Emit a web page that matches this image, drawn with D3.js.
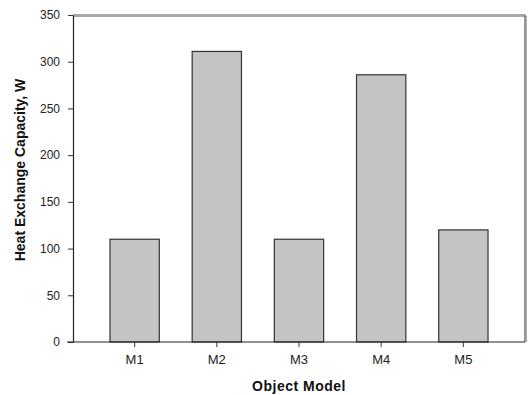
<!DOCTYPE html>
<html>
<head>
<meta charset="utf-8">
<script src="https://cdn.jsdelivr.net/npm/d3@7"></script>
<style>
  body { margin: 0; background: #fff; }
  .tick text { font-family: Arial, "Liberation Sans", sans-serif; fill: #222; }
</style>
</head>
<body>
<div class="chart"></div>
<script>
// Bar chart: heat exchange capacity per object model

var categories = ["M1", "M2", "M3", "M4", "M5"];
var capacity = [110, 311, 110, 286, 120]; // W
var yTicks = [0, 50, 100, 150, 200, 250, 300, 350];

var W = 528, H = 395;
var mLeft = 73, mRight = 525, mTop = 15, mBottom = 342;

var svg = d3.select(".chart").append("svg")
    .attr("width", W)
    .attr("height", H);

var x = d3.scaleBand()
    .domain(categories)
    .range([mLeft, mRight])
    .paddingInner(0.4)
    .paddingOuter(0.45);

var y = d3.scaleLinear()
    .domain([0, 350])
    .range([mBottom, mTop]);

// frame (top & right), slightly gray with a shadow
svg.append("path")
    .attr("d", "M" + mLeft + "," + (mTop + 1.5) + "H" + (mRight + 1.5) + "V" + mBottom)
    .attr("fill", "none").attr("stroke", "#aaa").attr("stroke-width", 1);
svg.append("path")
    .attr("d", "M" + mLeft + "," + mTop + "H" + mRight + "V" + mBottom)
    .attr("fill", "none").attr("stroke", "#555").attr("stroke-width", 1.2);

// bars
svg.selectAll("rect.bar")
    .data(capacity)
    .enter().append("rect")
    .attr("class", "bar")
    .attr("x", function(d, i) { return x(categories[i]); })
    .attr("y", function(d) { return y(d); })
    .attr("width", x.bandwidth())
    .attr("height", function(d) { return y(0) - y(d); })
    .style("fill", "#c4c3c6")
    .style("stroke", "#333")
    .style("stroke-width", 1.2);

// axes
var yAxis = svg.append("g")
    .attr("transform", "translate(" + mLeft + ",0)")
    .call(d3.axisLeft(y).tickValues(yTicks).tickSize(5).tickPadding(8).tickSizeOuter(0));
yAxis.selectAll(".tick text").style("font-size", "12px");

var xAxis = svg.append("g")
    .attr("transform", "translate(0," + mBottom + ")")
    .call(d3.axisBottom(x).tickSize(5).tickPadding(8).tickSizeOuter(0));
xAxis.selectAll(".tick text").style("font-size", "13px");

[yAxis, xAxis].forEach(function(g) {
  g.select(".domain").attr("stroke", "#222").attr("stroke-width", 1.2);
  g.selectAll(".tick line").attr("stroke", "#333");
});
xAxis.select(".domain").attr("d", "M" + (mLeft - 6) + ",0H" + mRight);

// axis titles
svg.append("text")
    .text("Object Model")
    .attr("x", (mLeft + mRight) / 2)
    .attr("y", 391)
    .attr("text-anchor", "middle")
    .style("font-family", "Arial, 'Liberation Sans', sans-serif")
    .style("font-weight", "bold")
    .style("font-size", "14px")
    .style("letter-spacing", "0.5px")
    .style("fill", "#111");

svg.append("text")
    .text("Heat Exchange Capacity, W")
    .attr("transform", "translate(25,170) rotate(-90)")
    .attr("text-anchor", "middle")
    .style("font-family", "Arial, 'Liberation Sans', sans-serif")
    .style("font-weight", "bold")
    .style("font-size", "14px")
    .style("fill", "#111");
</script>
</body>
</html>
